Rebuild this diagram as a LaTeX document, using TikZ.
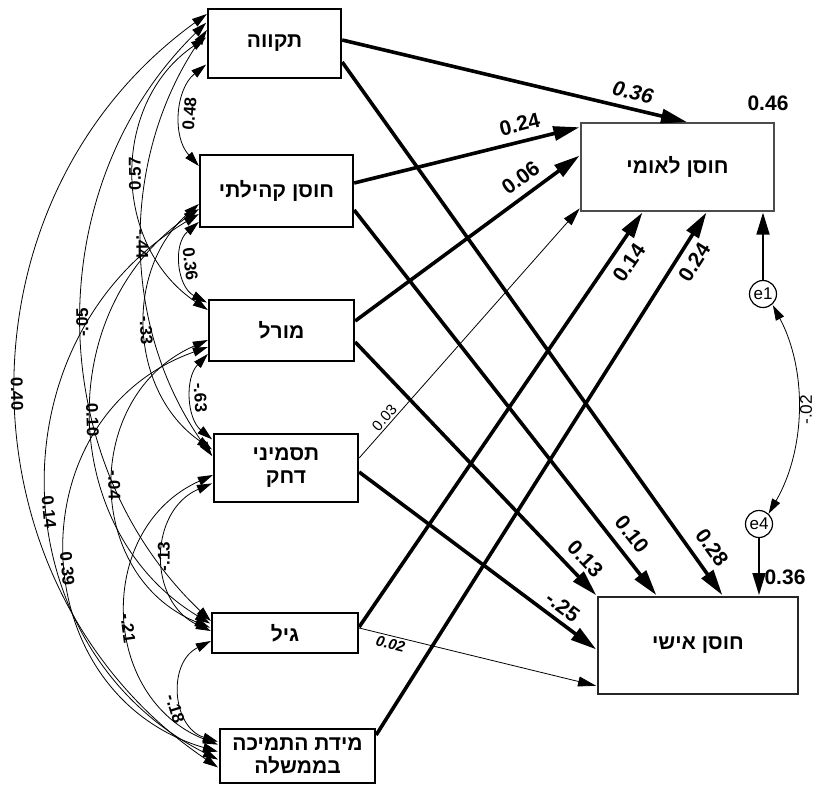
\documentclass[tikz,border=0pt]{standalone}
\usepackage{fontspec}
\setmainfont{Liberation Sans}
\newfontfamily\hebfont[Script=Hebrew]{Liberation Sans}
\TeXXeTstate=1
\usetikzlibrary{arrows.meta}
\begin{document}
\begin{tikzpicture}[x=1pt,y=-1pt,shorten >=1pt,
var/.style = {draw, line width=2.3pt, inner sep=0pt, align=center,
  font=\hebfont\bfseries\fontsize{21}{23}\selectfont},
res/.style = {circle, draw, line width=1.2pt, inner sep=0pt, minimum size=27pt,
  font=\fontsize{17}{19}\selectfont},
effect/.style = {line width=3.6pt, -{Triangle[length=26pt,width=14pt]}},
weak/.style = {line width=0.8pt, -{Triangle[length=18pt,width=10pt]}},
cov/.style = {line width=0.8pt, {Triangle[length=15pt,width=9pt]}-{Triangle[length=15pt,width=9pt]}},
coef/.style = {font=\bfseries\fontsize{21}{23}\selectfont, sloped, inner sep=2pt},
small coef/.style = {font=\fontsize{15}{17}\selectfont, sloped, inner sep=2pt},
rho/.style = {font=\bfseries\fontsize{17}{19}\selectfont, sloped, allow upside down, inner sep=2pt}]
\useasboundingbox (0,0) rectangle (820,785);

\node[var, minimum width=133pt, minimum height=69pt] (1) at (274.5,43.5) {\beginR תקווה\endR};
\node[var, minimum width=153pt, minimum height=72pt] (2) at (276.5,191) {\beginR חוסן קהילתי\endR};
\node[var, minimum width=145pt, minimum height=61pt] (3) at (281.5,330.5) {\beginR מורל\endR};
\node[var, minimum width=144pt, minimum height=68pt] (4) at (286,468) {\beginR תסמיני\endR\\\beginR דחק\endR};
\node[var, minimum width=146pt, minimum height=40pt] (5) at (285,633) {\beginR גיל\endR};
\node[var, minimum width=155pt, minimum height=54pt] (6) at (297.5,756) {\beginR מידת התמיכה\endR\\\beginR בממשלה\endR};
\node[var, line width=1.3pt, draw=black!70, minimum width=193pt, minimum height=88pt] (7) at (677.5,167) {\beginR חוסן לאומי\endR};
\node[var, line width=2pt, draw=black!85, minimum width=200pt, minimum height=97pt] (8) at (698,645.5) {\beginR חוסן אישי\endR};
\node[res] (e1) at (763,294) {e1};
\node[res] (e4) at (759,524) {e4};
\node[font=\bfseries\fontsize{21}{23}\selectfont] (r7) at (768,103) {0.46};
\node[font=\bfseries\fontsize{21}{23}\selectfont] (r8) at (785,577) {0.36};

\path[effect]
([yshift=3.5pt]1.east) edge node[coef, font=\bfseries\itshape\fontsize{21}{23}\selectfont, pos=.83, above=5pt] {0.36} ([xshift=10.5pt]7.north)
([yshift=-18.5pt]1.east) edge node[coef, pos=.93, above=8pt] {0.28} ([xshift=25pt]8.north)
([yshift=8pt]2.east) edge node[coef, pos=.75, above=6pt] {0.24} ([yshift=40pt]7.west)
([yshift=-19pt]2.east) edge node[coef, pos=.87, above=7pt] {0.10} ([xshift=-41pt]8.north)
([yshift=9.5pt]3.east) edge node[coef, pos=.78, above=6pt] {0.06} ([yshift=12pt]7.west)
([yshift=-11.5pt]3.east) edge node[coef, pos=.9, above=6pt] {0.13} (8.north west)
([yshift=-4pt]4.east) edge node[coef, pos=.82, above=3pt] {-.25} ([yshift=-4.5pt]8.west)
([yshift=6pt]5.east) edge node[coef, pos=.9, below=6pt] {0.14} ([xshift=-34.5pt]7.south)
([yshift=21pt]6.east) edge node[coef, pos=.92, below=5pt] {0.24} ([xshift=29.5pt]7.south);
\path[weak]
([yshift=10pt]4.east) edge node[small coef, pos=.14, above] {0.03} ([yshift=4pt]7.south west)
([yshift=5pt]5.east) edge node[small coef, font=\bfseries\itshape\fontsize{15}{17}\selectfont, pos=.14, below] {0.02} ([yshift=-40.5pt]8.west);
\path[line width=1.8pt, -{Triangle[length=22pt,width=13pt]}]
(e1) edge (e1 |- 7.south)
(e4) edge (e4 |- 8.north);
\path[cov] (e4.47) edge[bend right=29, looseness=.91] node[rho, font=\fontsize{17}{19}\selectfont, below] {-.02} (e1.-48);

\path[cov]
([yshift=25pt]2.west) edge[bend left=47] node[rho, below] {0.48} ([yshift=-20.5pt]1.west)
([yshift=-31pt]2.west) edge[bend right=56, looseness=1.09] node[rho, above] {0.36} ([yshift=27.5pt]3.west)
([yshift=-23.5pt]3.west) edge[bend right=47] node[rho, above] {-.63} ([yshift=28pt]4.west)
([yshift=2pt]5.west) edge[bend left=66, looseness=1.21] node[rho] {-.13} ([yshift=-15pt]4.west)
([yshift=-8pt]5.west) edge[bend right=68, looseness=1.24] node[rho, pos=.6, below] {-.18} ([yshift=14pt]6.west)
([yshift=20.5pt]3.west) edge[bend left=56, looseness=1.09] node[rho] {0.57} ([yshift=6.5pt]1.west)
([yshift=-13pt]2.west) edge[bend right=52, looseness=1.05] node[rho] {-.33} ([yshift=18pt]4.west)
([yshift=-9.5pt]3.west) edge[bend right=67, looseness=1.22] node[rho] {-.04} ([yshift=5pt]5.west)
([yshift=-7pt]4.west) edge[bend right=67, looseness=1.22] node[rho, pos=.55] {-.21} ([yshift=11pt]6.west)
([yshift=13.5pt]1.west) edge[bend right=35, looseness=.94] node[rho] {-.44} ([yshift=11pt]4.west)
([yshift=-18pt]2.west) edge[bend right=57, looseness=1.1] node[rho] {0.10} ([yshift=9pt]5.west)
([yshift=-16.5pt]3.west) edge[bend right=72, looseness=1.3] node[rho, pos=.53] {0.39} ([yshift=4pt]6.west)
([yshift=12pt]5.west) edge[bend left=46] node[rho] {-.05} ([yshift=21.5pt]1.west)
([yshift=-23pt]2.west) edge[bend right=61, looseness=1.15] node[rho, pos=.53] {0.14} ([yshift=-4pt]6.west)
([yshift=29.5pt]1.west) edge[bend right=55, looseness=1.08] node[rho] {0.40} ([yshift=-12pt]6.west);
\end{tikzpicture}
\end{document}
